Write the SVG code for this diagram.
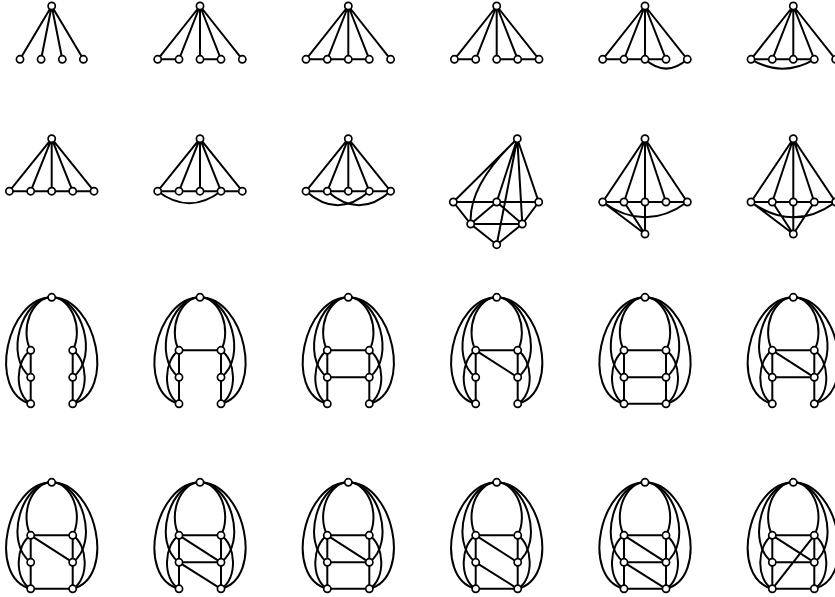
<svg xmlns="http://www.w3.org/2000/svg" width="835" height="597" viewBox="0 0 835 597">
<style>
.e{fill:none;stroke:#000;stroke-width:2;stroke-linecap:round}
.v circle{fill:#fff;stroke:#000;stroke-width:1.7}
</style>
<defs>
<g id="frameL">
<path d="M0 0C-20 0 -32 32 -21 53"/>
<path d="M0 0C-30 0 -48 60 -21 80"/>
<path d="M0 0C-45 0 -65 95 -21 106.5"/>
<path d="M-21 53C-36 62 -38 97 -21 106.5"/>
<path d="M-21 53V106.5"/>
</g>
<g id="frame"><use href="#frameL"/><use href="#frameL" transform="scale(-1,1)"/></g>
<g id="hexv" fill="#fff" stroke="#000" stroke-width="1.7">
<circle cx="0" cy="0" r="3.6"/>
<circle cx="-21" cy="53" r="3.6"/><circle cx="-21" cy="80" r="3.6"/><circle cx="-21" cy="106.5" r="3.6"/>
<circle cx="21" cy="53" r="3.6"/><circle cx="21" cy="80" r="3.6"/><circle cx="21" cy="106.5" r="3.6"/>
</g>
</defs>

<g id="connectors" class="e">
<!-- row 1 -->
<g transform="translate(51.7,6)"><path d="M0 0L-31.7 53.3M0 0L-10.6 53.3M0 0L10.6 53.3M0 0L31.7 53.3"/></g>
<g transform="translate(200,6)"><path d="M0 0L-42.3 53.3M0 0L-21 53.3M0 0L0 53.3M0 0L21 53.3M0 0L42.3 53.3M-42.3 53.3H-21M0 53.3H21"/></g>
<g transform="translate(348.3,6)"><path d="M0 0L-42.3 53.3M0 0L-21 53.3M0 0L0 53.3M0 0L21 53.3M0 0L42.3 53.3M-42.3 53.3H21"/></g>
<g transform="translate(496.7,6)"><path d="M0 0L-42.3 53.3M0 0L-21 53.3M0 0L0 53.3M0 0L21 53.3M0 0L42.3 53.3M-42.3 53.3H-21M0 53.3H42.3"/></g>
<g transform="translate(645,6)"><path d="M0 0L-42.3 53.3M0 0L-21 53.3M0 0L0 53.3M0 0L21 53.3M0 0L42.3 53.3M-42.3 53.3H21M0 53.3Q21.15 72 42.3 53.3"/></g>
<g transform="translate(793.3,6)"><path d="M0 0L-42.3 53.3M0 0L-21 53.3M0 0L0 53.3M0 0L21 53.3M0 0L42.3 53.3M-42.3 53.3H21M-42.3 53.3Q-10.65 72 21 53.3"/></g>
<!-- row 2 -->
<g transform="translate(51.7,138.7)"><path d="M0 0L-42.3 52.5M0 0L-21 52.5M0 0L0 52.5M0 0L21 52.5M0 0L42.3 52.5M-42.3 52.5H42.3"/></g>
<g transform="translate(200,138.7)"><path d="M0 0L-42.3 52.5M0 0L-21 52.5M0 0L0 52.5M0 0L21 52.5M0 0L42.3 52.5M-42.3 52.5H42.3M-42.3 52.5Q-10.65 76.5 21 52.5"/></g>
<g transform="translate(348.3,138.7)"><path d="M0 0L-42.3 52.5M0 0L-21 52.5M0 0L0 52.5M0 0L21 52.5M0 0L42.3 52.5M-42.3 52.5H42.3M-42.3 52.5Q-10.65 80.5 21 52.5M-21 52.5Q10.65 80.5 42.3 52.5"/></g>
<g transform="translate(496.7,138.7)"><path d="M20.6 0L-43.4 63.3M20.6 0Q-28.7 46.3 -26 85.3M20.6 0L0 63.3M20.6 0L0 106M20.6 0L25.6 85.3M20.6 0L42 63.3M-43.4 63.3H42M-43.4 63.3L-26 85.3L0 106L25.6 85.3L42 63.3M-26 85.3H25.6M-26 85.3L0 63.3L25.6 85.3"/></g>
<g transform="translate(645,138.7)"><path d="M0 0L-42.3 63.3M0 0L-21 63.3M0 0L0 63.3M0 0L21 63.3M0 0L42.3 63.3M-42.3 63.3H42.3M-42.3 63.3Q0 94 42.3 63.3M-42.3 63.3L0 95.3M-21 63.3L0 95.3M0 63.3V95.3"/></g>
<g transform="translate(793.3,138.7)"><path d="M0 0L-42.3 63.3M0 0L-21 63.3M0 0L0 63.3M0 0L21 63.3M0 0L42.3 63.3M-42.3 63.3H42.3M-42.3 63.3Q0 94 42.3 63.3M-42.3 63.3L0 95.3M-21 63.3L0 95.3M0 63.3V95.3M21 63.3L0 95.3"/></g>
<!-- row 3 -->
<g transform="translate(51.7,297.3)"><use href="#frame"/></g>
<g transform="translate(200,297.3)"><use href="#frame"/><path d="M-21 53H21"/></g>
<g transform="translate(348.3,297.3)"><use href="#frame"/><path d="M-21 53H21M-21 80H21"/></g>
<g transform="translate(496.7,297.3)"><use href="#frame"/><path d="M-21 53H21M-21 53L21 80"/></g>
<g transform="translate(645,297.3)"><use href="#frame"/><path d="M-21 53H21M-21 80H21M-21 106.5H21"/></g>
<g transform="translate(793.3,297.3)"><use href="#frame"/><path d="M-21 53H21M-21 53L21 80M-21 80H21"/></g>
<!-- row 4 -->
<g transform="translate(51.7,482.3)"><use href="#frame"/><path d="M-21 53H21M-21 53L21 80M-21 106.5H21"/></g>
<g transform="translate(200,482.3)"><use href="#frame"/><path d="M-21 53H21M-21 53L21 80M-21 80H21M-21 80L21 106.5"/></g>
<g transform="translate(348.3,482.3)"><use href="#frame"/><path d="M-21 53H21M-21 53L21 80M-21 80H21M-21 106.5H21"/></g>
<g transform="translate(496.7,482.3)"><use href="#frame"/><path d="M-21 53H21M-21 53L21 80M-21 80L21 106.5M-21 106.5H21"/></g>
<g transform="translate(645,482.3)"><use href="#frame"/><path d="M-21 53H21M-21 53L21 80M-21 80H21M-21 80L21 106.5M-21 106.5H21"/></g>
<g transform="translate(793.3,482.3)"><use href="#frame"/><path d="M-21 53H21M-21 53L21 80M-21 80H21M21 53L-21 106.5M-21 106.5H21"/></g>
</g>

<g class="v">
<g id="graph1" transform="translate(51.7,6)"><circle r="3.6"/><circle cx="-31.7" cy="53.3" r="3.6"/><circle cx="-10.6" cy="53.3" r="3.6"/><circle cx="10.6" cy="53.3" r="3.6"/><circle cx="31.7" cy="53.3" r="3.6"/></g>
<g id="graph2" transform="translate(200,6)"><circle r="3.6"/><circle cx="-42.3" cy="53.3" r="3.6"/><circle cx="-21" cy="53.3" r="3.6"/><circle cx="0" cy="53.3" r="3.6"/><circle cx="21" cy="53.3" r="3.6"/><circle cx="42.3" cy="53.3" r="3.6"/></g>
<g id="graph3" transform="translate(348.3,6)"><circle r="3.6"/><circle cx="-42.3" cy="53.3" r="3.6"/><circle cx="-21" cy="53.3" r="3.6"/><circle cx="0" cy="53.3" r="3.6"/><circle cx="21" cy="53.3" r="3.6"/><circle cx="42.3" cy="53.3" r="3.6"/></g>
<g id="graph4" transform="translate(496.7,6)"><circle r="3.6"/><circle cx="-42.3" cy="53.3" r="3.6"/><circle cx="-21" cy="53.3" r="3.6"/><circle cx="0" cy="53.3" r="3.6"/><circle cx="21" cy="53.3" r="3.6"/><circle cx="42.3" cy="53.3" r="3.6"/></g>
<g id="graph5" transform="translate(645,6)"><circle r="3.6"/><circle cx="-42.3" cy="53.3" r="3.6"/><circle cx="-21" cy="53.3" r="3.6"/><circle cx="0" cy="53.3" r="3.6"/><circle cx="21" cy="53.3" r="3.6"/><circle cx="42.3" cy="53.3" r="3.6"/></g>
<g id="graph6" transform="translate(793.3,6)"><circle r="3.6"/><circle cx="-42.3" cy="53.3" r="3.6"/><circle cx="-21" cy="53.3" r="3.6"/><circle cx="0" cy="53.3" r="3.6"/><circle cx="21" cy="53.3" r="3.6"/><circle cx="42.3" cy="53.3" r="3.6"/></g>
<g id="graph7" transform="translate(51.7,138.7)"><circle r="3.6"/><circle cx="-42.3" cy="52.5" r="3.6"/><circle cx="-21" cy="52.5" r="3.6"/><circle cx="0" cy="52.5" r="3.6"/><circle cx="21" cy="52.5" r="3.6"/><circle cx="42.3" cy="52.5" r="3.6"/></g>
<g id="graph8" transform="translate(200,138.7)"><circle r="3.6"/><circle cx="-42.3" cy="52.5" r="3.6"/><circle cx="-21" cy="52.5" r="3.6"/><circle cx="0" cy="52.5" r="3.6"/><circle cx="21" cy="52.5" r="3.6"/><circle cx="42.3" cy="52.5" r="3.6"/></g>
<g id="graph9" transform="translate(348.3,138.7)"><circle r="3.6"/><circle cx="-42.3" cy="52.5" r="3.6"/><circle cx="-21" cy="52.5" r="3.6"/><circle cx="0" cy="52.5" r="3.6"/><circle cx="21" cy="52.5" r="3.6"/><circle cx="42.3" cy="52.5" r="3.6"/></g>
<g id="graph10" transform="translate(496.7,138.7)"><circle cx="20.6" cy="0" r="3.6"/><circle cx="-43.4" cy="63.3" r="3.6"/><circle cx="0" cy="63.3" r="3.6"/><circle cx="42" cy="63.3" r="3.6"/><circle cx="-26" cy="85.3" r="3.6"/><circle cx="25.6" cy="85.3" r="3.6"/><circle cx="0" cy="106" r="3.6"/></g>
<g id="graph11" transform="translate(645,138.7)"><circle r="3.6"/><circle cx="-42.3" cy="63.3" r="3.6"/><circle cx="-21" cy="63.3" r="3.6"/><circle cx="0" cy="63.3" r="3.6"/><circle cx="21" cy="63.3" r="3.6"/><circle cx="42.3" cy="63.3" r="3.6"/><circle cx="0" cy="95.3" r="3.6"/></g>
<g id="graph12" transform="translate(793.3,138.7)"><circle r="3.6"/><circle cx="-42.3" cy="63.3" r="3.6"/><circle cx="-21" cy="63.3" r="3.6"/><circle cx="0" cy="63.3" r="3.6"/><circle cx="21" cy="63.3" r="3.6"/><circle cx="42.3" cy="63.3" r="3.6"/><circle cx="0" cy="95.3" r="3.6"/></g>
<g id="graph13" transform="translate(51.7,297.3)"><use href="#hexv"/></g>
<g id="graph14" transform="translate(200,297.3)"><use href="#hexv"/></g>
<g id="graph15" transform="translate(348.3,297.3)"><use href="#hexv"/></g>
<g id="graph16" transform="translate(496.7,297.3)"><use href="#hexv"/></g>
<g id="graph17" transform="translate(645,297.3)"><use href="#hexv"/></g>
<g id="graph18" transform="translate(793.3,297.3)"><use href="#hexv"/></g>
<g id="graph19" transform="translate(51.7,482.3)"><use href="#hexv"/></g>
<g id="graph20" transform="translate(200,482.3)"><use href="#hexv"/></g>
<g id="graph21" transform="translate(348.3,482.3)"><use href="#hexv"/></g>
<g id="graph22" transform="translate(496.7,482.3)"><use href="#hexv"/></g>
<g id="graph23" transform="translate(645,482.3)"><use href="#hexv"/></g>
<g id="graph24" transform="translate(793.3,482.3)"><use href="#hexv"/></g>
</g>
</svg>
